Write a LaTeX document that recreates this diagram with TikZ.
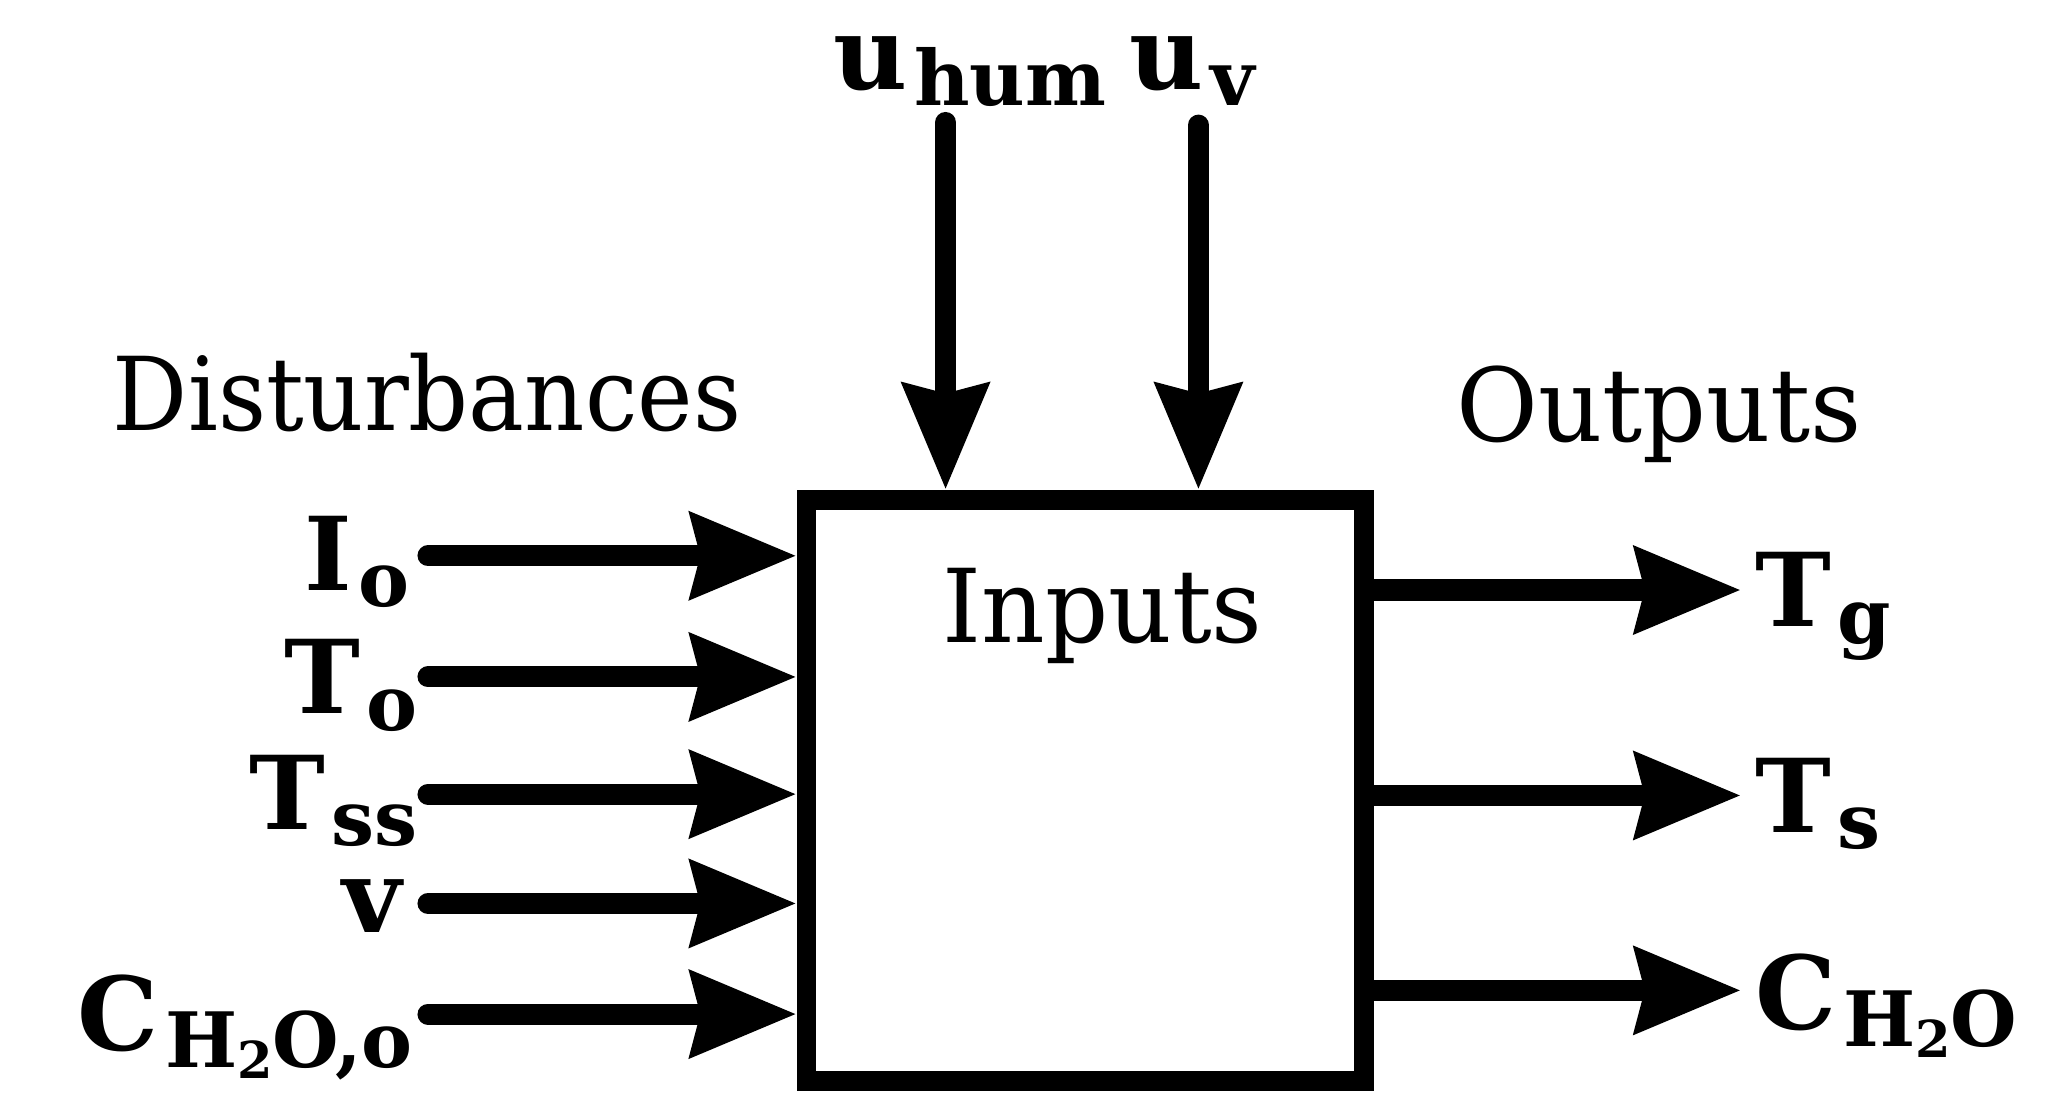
\documentclass[tikz,border=0pt]{standalone}
\usepackage{fontspec}
\setmainfont{DejaVu Serif}
\usetikzlibrary{arrows.meta}
\newcommand\lsub[1]{\kern1.5pt\raisebox{-3.5pt}{\fontsize{16.5}{16.5}\selectfont #1}}
\newcommand\ssub[1]{\raisebox{-2.5pt}{\fontsize{11}{11}\selectfont #1}}
\begin{document}
\begin{tikzpicture}[x=0.01cm,y=-0.01cm,
  big/.style={font=\fontsize{22}{26}\selectfont, inner sep=0pt},
  sym/.style={font=\fontsize{22}{24}\selectfont\bfseries, inner sep=0pt},
  blk/.style={draw, line width=0.15cm, minimum width=4.23cm, minimum height=4.41cm},
  flow/.style={line width=0.16cm, line cap=round, -{Stealth[length=0.8cm,width=0.64cm,inset=0.07cm]}}]
\useasboundingbox (0,0) rectangle (1568,844);
\node[blk] (box) at (824,600) {};
\node[big, anchor=base west] (inp) at (715,488) {\scalebox{0.97}[1]{Inputs}};
\node[big, anchor=base west] (dist) at (85,327) {\scalebox{0.92}[1]{Disturbances}};
\node[big, anchor=base west] (outp) at (1105,335) {\scalebox{0.98}[1]{Outputs}};
% top inputs
\node[sym, anchor=base west] (uhum) at (632,68) {u\lsub{hum}};
\node[sym, anchor=base west] (uv) at (857,68) {u\lsub{v}};
\coordinate (t1) at (718,93);
\coordinate (t2) at (910,95);
\draw[flow] (t1) -- (t1 |- box.north);
\draw[flow] (t2) -- (t2 |- box.north);
% disturbances
\node[sym, anchor=base east] (Io) at (312,448) {I\lsub{o}};
\node[sym, anchor=base east] (To) at (318,542) {T\lsub{o}};
\node[sym, anchor=base east] (Tss) at (318,630) {T\lsub{ss}};
\node[sym, anchor=base east] (V) at (306,708) {v};
\node[sym, anchor=base east] (Co) at (314,798) {C\lsub{H\ssub{2}O,o}};
\coordinate (s1) at (325,422);
\coordinate (s2) at (325,514);
\coordinate (s3) at (325,603);
\coordinate (s4) at (325,686);
\coordinate (s5) at (325,770);
\foreach \s in {s1,s2,s3,s4,s5} \draw[flow] (\s) -- (\s -| box.west);
% outputs
\coordinate (r1) at (1322,448);
\coordinate (r2) at (1322,604);
\coordinate (r3) at (1322,752);
\foreach \r in {r1,r2,r3} \draw[flow] (\r -| box.east) -- (\r);
\node[sym, anchor=base west] (Tg) at (1332,476) {T\lsub{g}};
\node[sym, anchor=base west] (Ts) at (1332,632) {T\lsub{s}};
\node[sym, anchor=base west] (Ch) at (1332,782) {C\lsub{H\ssub{2}O}};
\end{tikzpicture}
\end{document}
